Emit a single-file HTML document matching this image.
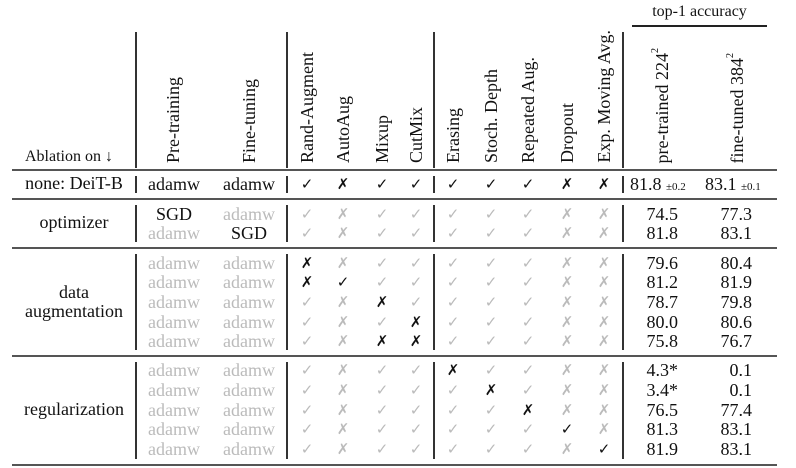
<!DOCTYPE html>
<html><head><meta charset="utf-8"><style>
body{margin:0;width:796px;height:468px;background:#fff;position:relative;overflow:hidden;font-family:"Liberation Serif","DejaVu Serif",serif;color:#111;font-size:18px}
.hl{position:absolute;left:12px;width:765px;background:#555}
.vl{position:absolute;width:1.5px;background:#333}
.r{position:absolute;left:0;width:796px;height:20px;line-height:20px}
.r span{position:absolute;width:44px;text-align:center;top:0}
.g{color:#bbb}
.m{font-family:"DejaVu Sans",sans-serif;font-size:15px;font-weight:bold}
.m.g{font-weight:normal}
.a{left:148px;width:52px!important}.b{left:223px;width:52px!important}
.c3{left:285px}.c4{left:321px}.c5{left:360px}.c6{left:394px}.c7{left:431px}.c8{left:469px}.c9{left:506px}.c10{left:545px}.c11{left:582px}
.p{left:620px;width:58px!important;text-align:right!important}.f{left:694px;width:58px!important;text-align:right!important}
.rot{position:absolute;bottom:305px;writing-mode:vertical-rl;transform:rotate(180deg);white-space:nowrap;line-height:20px;width:20px}
.lbl{position:absolute;width:124px;left:12px;text-align:center;line-height:19px}
sup{font-size:10px;vertical-align:6px;line-height:0}
small{font-size:11px}
</style></head><body>
<div style="position:absolute;left:632px;top:3px;width:135px;text-align:center;font-size:16px">top-1 accuracy</div>
<div style="position:absolute;left:632px;top:25px;width:135px;height:1.5px;background:#222"></div>
<div style="position:absolute;left:25px;top:148px;font-size:16px">Ablation on ↓</div>
<div class="rot" style="left:163px">Pre-training</div>
<div class="rot" style="left:239px">Fine-tuning</div>
<div class="rot" style="left:297px">Rand-Augment</div>
<div class="rot" style="left:333px">AutoAug</div>
<div class="rot" style="left:372px">Mixup</div>
<div class="rot" style="left:406px">CutMix</div>
<div class="rot" style="left:443px">Erasing</div>
<div class="rot" style="left:481px">Stoch. Depth</div>
<div class="rot" style="left:518px">Repeated Aug.</div>
<div class="rot" style="left:557px">Dropout</div>
<div class="rot" style="left:594px">Exp. Moving Avg.</div>
<div class="rot" style="left:652px">pre-trained 224<sup>2</sup></div>
<div class="rot" style="left:727px">fine-tuned 384<sup>2</sup></div>

<div class="hl" style="top:169px;height:2px"></div>
<div class="hl" style="top:198px;height:2px"></div>
<div class="hl" style="top:247px;height:2px"></div>
<div class="hl" style="top:355px;height:2px"></div>
<div class="hl" style="top:464px;height:2px"></div>

<div class="vl" style="left:135px;top:32px;height:136px"></div>
<div class="vl" style="left:286px;top:32px;height:136px"></div>
<div class="vl" style="left:433px;top:32px;height:136px"></div>
<div class="vl" style="left:622px;top:32px;height:136px"></div>
<div class="vl" style="left:135px;top:176px;height:17px"></div><div class="vl" style="left:286px;top:176px;height:17px"></div><div class="vl" style="left:433px;top:176px;height:17px"></div><div class="vl" style="left:622px;top:176px;height:17px"></div>
<div class="vl" style="left:135px;top:205px;height:37px"></div><div class="vl" style="left:286px;top:205px;height:37px"></div><div class="vl" style="left:433px;top:205px;height:37px"></div><div class="vl" style="left:622px;top:205px;height:37px"></div>
<div class="vl" style="left:135px;top:254px;height:96px"></div><div class="vl" style="left:286px;top:254px;height:96px"></div><div class="vl" style="left:433px;top:254px;height:96px"></div><div class="vl" style="left:622px;top:254px;height:96px"></div>
<div class="vl" style="left:135px;top:362px;height:97px"></div><div class="vl" style="left:286px;top:362px;height:97px"></div><div class="vl" style="left:433px;top:362px;height:97px"></div><div class="vl" style="left:622px;top:362px;height:97px"></div>

<div class="lbl" style="top:174px">none: DeiT-B</div>
<div class="lbl" style="top:213px">optimizer</div>
<div class="lbl" style="top:283px">data<br>augmentation</div>
<div class="lbl" style="top:400px">regularization</div>

<div class="r" style="top:174px"><span class="a">adamw</span><span class="b">adamw</span><span class="c3 m">✓</span><span class="c4 m">✗</span><span class="c5 m">✓</span><span class="c6 m">✓</span><span class="c7 m">✓</span><span class="c8 m">✓</span><span class="c9 m">✓</span><span class="c10 m">✗</span><span class="c11 m">✗</span><span class="p" style="left:630px;width:72px!important;text-align:left!important">81.8 <small>±0.2</small></span><span class="f" style="left:705px;width:72px!important;text-align:left!important">83.1 <small>±0.1</small></span></div>

<div class="r" style="top:204px"><span class="a">SGD</span><span class="b g">adamw</span><span class="c3 m g">✓</span><span class="c4 m g">✗</span><span class="c5 m g">✓</span><span class="c6 m g">✓</span><span class="c7 m g">✓</span><span class="c8 m g">✓</span><span class="c9 m g">✓</span><span class="c10 m g">✗</span><span class="c11 m g">✗</span><span class="p">74.5</span><span class="f">77.3</span></div>
<div class="r" style="top:223px"><span class="a g">adamw</span><span class="b">SGD</span><span class="c3 m g">✓</span><span class="c4 m g">✗</span><span class="c5 m g">✓</span><span class="c6 m g">✓</span><span class="c7 m g">✓</span><span class="c8 m g">✓</span><span class="c9 m g">✓</span><span class="c10 m g">✗</span><span class="c11 m g">✗</span><span class="p">81.8</span><span class="f">83.1</span></div>

<div class="r" style="top:253px"><span class="a g">adamw</span><span class="b g">adamw</span><span class="c3 m">✗</span><span class="c4 m g">✗</span><span class="c5 m g">✓</span><span class="c6 m g">✓</span><span class="c7 m g">✓</span><span class="c8 m g">✓</span><span class="c9 m g">✓</span><span class="c10 m g">✗</span><span class="c11 m g">✗</span><span class="p">79.6</span><span class="f">80.4</span></div>
<div class="r" style="top:272px"><span class="a g">adamw</span><span class="b g">adamw</span><span class="c3 m">✗</span><span class="c4 m">✓</span><span class="c5 m g">✓</span><span class="c6 m g">✓</span><span class="c7 m g">✓</span><span class="c8 m g">✓</span><span class="c9 m g">✓</span><span class="c10 m g">✗</span><span class="c11 m g">✗</span><span class="p">81.2</span><span class="f">81.9</span></div>
<div class="r" style="top:292px"><span class="a g">adamw</span><span class="b g">adamw</span><span class="c3 m g">✓</span><span class="c4 m g">✗</span><span class="c5 m">✗</span><span class="c6 m g">✓</span><span class="c7 m g">✓</span><span class="c8 m g">✓</span><span class="c9 m g">✓</span><span class="c10 m g">✗</span><span class="c11 m g">✗</span><span class="p">78.7</span><span class="f">79.8</span></div>
<div class="r" style="top:312px"><span class="a g">adamw</span><span class="b g">adamw</span><span class="c3 m g">✓</span><span class="c4 m g">✗</span><span class="c5 m g">✓</span><span class="c6 m">✗</span><span class="c7 m g">✓</span><span class="c8 m g">✓</span><span class="c9 m g">✓</span><span class="c10 m g">✗</span><span class="c11 m g">✗</span><span class="p">80.0</span><span class="f">80.6</span></div>
<div class="r" style="top:331px"><span class="a g">adamw</span><span class="b g">adamw</span><span class="c3 m g">✓</span><span class="c4 m g">✗</span><span class="c5 m">✗</span><span class="c6 m">✗</span><span class="c7 m g">✓</span><span class="c8 m g">✓</span><span class="c9 m g">✓</span><span class="c10 m g">✗</span><span class="c11 m g">✗</span><span class="p">75.8</span><span class="f">76.7</span></div>

<div class="r" style="top:360px"><span class="a g">adamw</span><span class="b g">adamw</span><span class="c3 m g">✓</span><span class="c4 m g">✗</span><span class="c5 m g">✓</span><span class="c6 m g">✓</span><span class="c7 m">✗</span><span class="c8 m g">✓</span><span class="c9 m g">✓</span><span class="c10 m g">✗</span><span class="c11 m g">✗</span><span class="p">4.3*</span><span class="f">0.1</span></div>
<div class="r" style="top:380px"><span class="a g">adamw</span><span class="b g">adamw</span><span class="c3 m g">✓</span><span class="c4 m g">✗</span><span class="c5 m g">✓</span><span class="c6 m g">✓</span><span class="c7 m g">✓</span><span class="c8 m">✗</span><span class="c9 m g">✓</span><span class="c10 m g">✗</span><span class="c11 m g">✗</span><span class="p">3.4*</span><span class="f">0.1</span></div>
<div class="r" style="top:400px"><span class="a g">adamw</span><span class="b g">adamw</span><span class="c3 m g">✓</span><span class="c4 m g">✗</span><span class="c5 m g">✓</span><span class="c6 m g">✓</span><span class="c7 m g">✓</span><span class="c8 m g">✓</span><span class="c9 m">✗</span><span class="c10 m g">✗</span><span class="c11 m g">✗</span><span class="p">76.5</span><span class="f">77.4</span></div>
<div class="r" style="top:419px"><span class="a g">adamw</span><span class="b g">adamw</span><span class="c3 m g">✓</span><span class="c4 m g">✗</span><span class="c5 m g">✓</span><span class="c6 m g">✓</span><span class="c7 m g">✓</span><span class="c8 m g">✓</span><span class="c9 m g">✓</span><span class="c10 m">✓</span><span class="c11 m g">✗</span><span class="p">81.3</span><span class="f">83.1</span></div>
<div class="r" style="top:439px"><span class="a g">adamw</span><span class="b g">adamw</span><span class="c3 m g">✓</span><span class="c4 m g">✗</span><span class="c5 m g">✓</span><span class="c6 m g">✓</span><span class="c7 m g">✓</span><span class="c8 m g">✓</span><span class="c9 m g">✓</span><span class="c10 m g">✗</span><span class="c11 m">✓</span><span class="p">81.9</span><span class="f">83.1</span></div>
</body></html>
